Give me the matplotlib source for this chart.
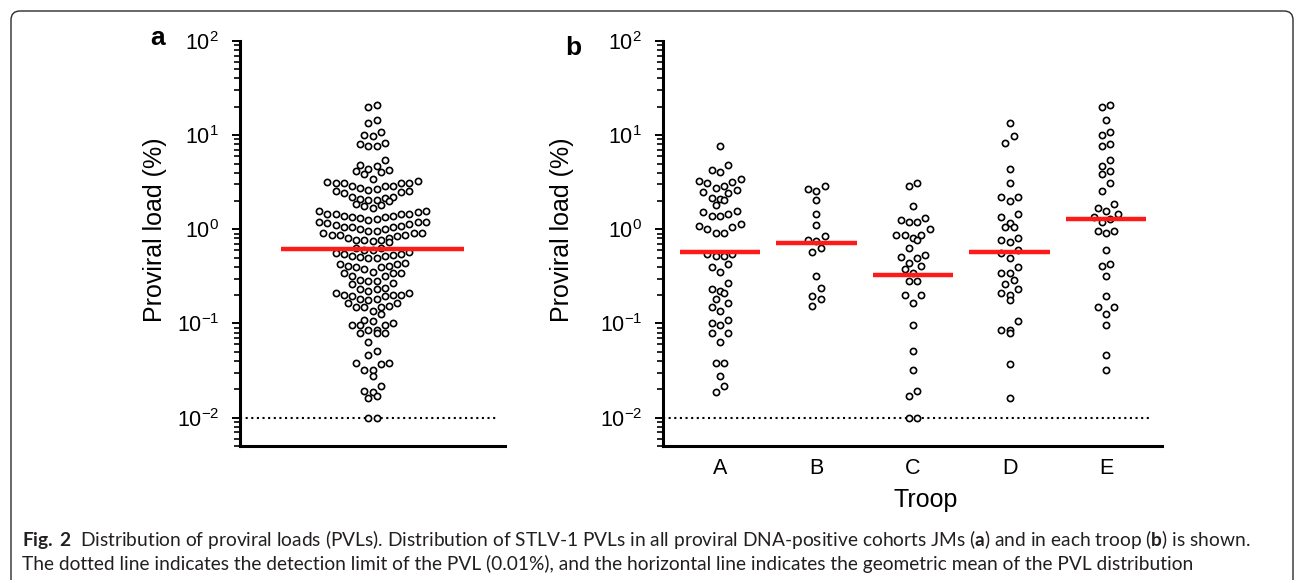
import numpy as np
import matplotlib.pyplot as plt
from matplotlib.patches import FancyBboxPatch
from matplotlib.ticker import LogLocator, LogFormatterSciNotation, NullFormatter

plt.rcParams['font.family'] = ['Liberation Sans', 'DejaVu Sans']
plt.rcParams['mathtext.fontset'] = 'custom'
plt.rcParams['mathtext.rm'] = 'Liberation Sans'
plt.rcParams['mathtext.bf'] = 'Lato:bold'
plt.rcParams['mathtext.default'] = 'regular'

# 1. Datos (PVL en %), una lista por tropa
tropas = ['A', 'B', 'C', 'D', 'E']

pvl_A = [7.7, 4.8, 4.27, 4.06, 3.40, 3.29, 3.21, 3.08, 2.89, 2.77, 2.62, 2.48, 2.42,
         2.14, 2.09, 2.05, 1.82, 1.58, 1.51, 1.45, 1.39, 1.39, 1.14, 1.09, 1.05, 1.01,
         0.91, 0.91, 0.55, 0.55, 0.52, 0.52, 0.43, 0.40, 0.355, 0.27, 0.23, 0.22, 0.21,
         0.18, 0.165, 0.15, 0.135, 0.11, 0.10, 0.097, 0.079, 0.079, 0.064, 0.038, 0.038,
         0.028, 0.0216, 0.0188]
pvl_B = [2.89, 2.66, 2.58, 2.05, 1.46, 1.11, 0.84, 0.77, 0.755, 0.64, 0.57, 0.32, 0.24,
         0.198, 0.18, 0.155]
pvl_C = [3.13, 2.91, 1.79, 1.31, 1.26, 1.21, 1.21, 1.00, 0.86, 0.86, 0.86, 0.81, 0.77,
         0.64, 0.54, 0.51, 0.49, 0.44, 0.41, 0.38, 0.34, 0.28, 0.28, 0.20, 0.20, 0.165,
         0.097, 0.051, 0.032, 0.019, 0.017, 0.01, 0.01]
pvl_D = [13.6, 9.9, 8.3, 4.34, 3.11, 2.21, 2.19, 1.99, 1.46, 1.36, 1.17, 1.05, 1.05,
         0.81, 0.77, 0.73, 0.61, 0.56, 0.49, 0.40, 0.34, 0.34, 0.29, 0.265, 0.23, 0.21,
         0.20, 0.176, 0.107, 0.086, 0.085, 0.079, 0.037, 0.016]
pvl_E = [21, 19.8, 14.6, 10.7, 10.1, 8.0, 7.7, 5.4, 4.7, 4.2, 3.87, 3.08, 2.54, 1.86,
         1.70, 1.58, 1.45, 1.35, 1.28, 1.21, 0.97, 0.97, 0.925, 0.61, 0.43, 0.41, 0.32,
         0.196, 0.15, 0.148, 0.127, 0.097, 0.046, 0.032]

# medias geometricas (linea roja) y limite de deteccion (linea punteada)
gm_todos = 0.62
gm_tropas = [0.58, 0.72, 0.33, 0.58, 1.29]
limite_deteccion = 0.01

pvl_tropas = [pvl_A, pvl_B, pvl_C, pvl_D, pvl_E]
pvl_todos = pvl_A + pvl_B + pvl_C + pvl_D + pvl_E

W, H = 1295, 580


def filas_prism(vals, paso, alto_fila=0.1):
    # Armamos filas tipo Prism: valores parecidos van en la misma fila, centrados
    v = np.sort(np.asarray(vals, float))[::-1]
    lv = np.log10(v)
    xs, ys = [], []
    i = 0
    while i < len(v):
        j = i
        while j < len(v) and lv[i] - lv[j] < alto_fila:
            j += 1
        fila = v[i:j][::-1]
        n = len(fila)
        offs = (np.arange(n) - (n - 1) / 2) * paso
        orden = np.argsort(np.abs(offs), kind='stable')
        for k, idx in enumerate(orden):
            xs.append(offs[idx])
            ys.append(fila[k])
        i = j
    return np.array(xs), np.array(ys)


def preparar_eje(ax):
    ax.set_yscale('log')
    ax.set_ylim(0.005, 100)
    ax.yaxis.set_major_locator(LogLocator(base=10, numticks=10))
    ax.yaxis.set_major_formatter(LogFormatterSciNotation())
    ax.yaxis.set_minor_locator(LogLocator(base=10, subs=np.arange(2, 10), numticks=20))
    ax.yaxis.set_minor_formatter(NullFormatter())
    for lado in ['top', 'right']:
        ax.spines[lado].set_visible(False)
    for lado in ['left', 'bottom']:
        ax.spines[lado].set_linewidth(2.2)
    ax.tick_params(axis='y', which='major', direction='out', length=6, width=1.4,
                   labelsize=15.5, pad=9)
    ax.tick_params(axis='y', which='minor', direction='out', length=4.2, width=1.2)
    ax.set_facecolor('none')


fig = plt.figure(figsize=(W / 100, H / 100), dpi=100)

# marco redondeado de la figura + leyenda de abajo
fondo = fig.add_axes([0, 0, 1, 1], zorder=-1)
fondo.set_xlim(0, W)
fondo.set_ylim(H, 0)
fondo.axis('off')
fondo.add_patch(FancyBboxPatch((11, 11), 1282, 620, boxstyle='round,pad=0,rounding_size=9',
                               fc='none', ec='#2b2b2b', lw=1.0))

ax_a = fig.add_axes([240 / W, (H - 446) / H, 265 / W, 405 / H])
ax_b = fig.add_axes([663 / W, (H - 446) / H, 499 / W, 405 / H])

# 2. Panel a: todos los animales juntos
preparar_eje(ax_a)
ax_a.set_xlim(-1, 1)
ax_a.set_xticks([])
px_unidad_a = 265 / 2
xa, ya = filas_prism(pvl_todos, 8.2 / px_unidad_a)
ax_a.scatter(xa, ya, s=20, facecolors='white', edgecolors='black', linewidths=1.2, zorder=3)
ax_a.hlines(gm_todos, -91.5 / px_unidad_a, 91.5 / px_unidad_a, color='#ff1a1a', lw=3.2, zorder=4)
ax_a.hlines(limite_deteccion, -1, 0.94, color='black', lw=1.5, linestyles=(0, (1, 1.7)), zorder=2)

# 3. Panel b: una columna por tropa
preparar_eje(ax_b)
ax_b.set_xlim(-0.59, 4.58)
px_unidad_b = 499 / 5.17
ax_b.set_xticks(range(len(tropas)), tropas)
ax_b.tick_params(axis='x', length=0, labelsize=15.5, pad=9)
for i, vals in enumerate(pvl_tropas):
    xb, yb = filas_prism(vals, 8.3 / px_unidad_b)
    ax_b.scatter(xb + i, yb, s=20, facecolors='white', edgecolors='black', linewidths=1.2, zorder=3)
    ax_b.hlines(gm_tropas[i], i - 0.415, i + 0.415, color='#ff1a1a', lw=3.2, zorder=4)
ax_b.hlines(limite_deteccion, -0.59, 4.48, color='black', lw=1.5, linestyles=(0, (1, 1.7)), zorder=2)

# 4. Textos sueltos (etiquetas de panel, ejes)
fig.text(158 / W, 1 - 45 / H, 'a', fontsize=19, fontweight='bold', ha='center', va='baseline')
fig.text(573 / W, 1 - 55 / H, 'b', fontsize=19, fontweight='bold', ha='center', va='baseline')
fig.text(155 / W, 1 - 230 / H, 'Proviral load (%)', fontsize=18, rotation=90, ha='center', va='center')
fig.text(562 / W, 1 - 230 / H, 'Proviral load (%)', fontsize=18, rotation=90, ha='center', va='center')
fig.text(926 / W, 1 - 500 / H, 'Troop', fontsize=18, ha='center', va='center')

linea1 = (r'$\bf{Fig.\,2}$  Distribution of proviral loads (PVLs). Distribution of STLV-1 PVLs in all '
          r'proviral DNA-positive cohorts JMs ($\bf{a}$) and in each troop ($\bf{b}$) is shown.')
linea2 = ('The dotted line indicates the detection limit of the PVL (0.01%), and the horizontal line '
          'indicates the geometric mean of the PVL distribution')
fig.text(22 / W, 1 - 546 / H, linea1, family='Lato', fontsize=13.8, color='#231f20', va='baseline')
fig.text(22 / W, 1 - 570 / H, linea2, family='Lato', fontsize=13.8, color='#231f20', va='baseline')

fig.savefig('out.png', dpi=100)
plt.close(fig)
